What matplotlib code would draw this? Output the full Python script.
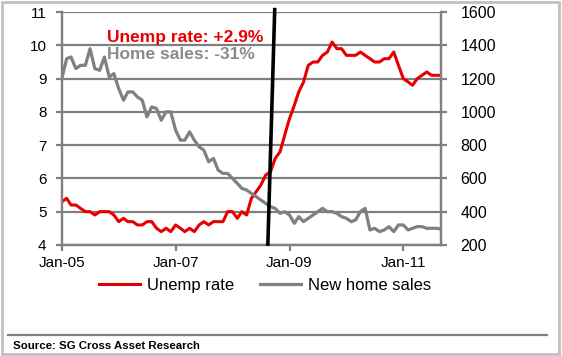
import numpy as np
import pandas as pd
import matplotlib
matplotlib.use("Agg")
import matplotlib.pyplot as plt
import matplotlib.dates as mdates
from matplotlib.lines import Line2D

plt.rcParams['font.family'] = ['Liberation Sans', 'DejaVu Sans']

# monthly, Jan-05 .. Sep-11
months = pd.date_range('2005-01-01', periods=81, freq='MS')

unemp_rate = [
    5.3, 5.4, 5.2, 5.2, 5.1, 5.0, 5.0, 4.9, 5.0, 5.0, 5.0, 4.9,   # 2005
    4.7, 4.8, 4.7, 4.7, 4.6, 4.6, 4.7, 4.7, 4.5, 4.4, 4.5, 4.4,   # 2006
    4.6, 4.5, 4.4, 4.5, 4.4, 4.6, 4.7, 4.6, 4.7, 4.7, 4.7, 5.0,   # 2007
    5.0, 4.8, 5.0, 4.9, 5.4, 5.6, 5.8, 6.1, 6.2, 6.6, 6.8, 7.3,   # 2008
    7.8, 8.2, 8.6, 8.9, 9.4, 9.5, 9.5, 9.7, 9.8, 10.1, 9.9, 9.9,  # 2009
    9.7, 9.7, 9.7, 9.8, 9.7, 9.6, 9.5, 9.5, 9.6, 9.6, 9.8, 9.4,   # 2010
    9.0, 8.9, 8.8, 9.0, 9.1, 9.2, 9.1, 9.1, 9.1,                  # 2011
]

home_sales = [
    1200, 1320, 1330, 1260, 1280, 1280, 1380, 1260, 1250, 1330, 1210, 1230,
    1140, 1070, 1120, 1120, 1090, 1070, 970, 1030, 1020, 950, 1000, 1000,
    890, 830, 830, 880, 830, 790, 770, 700, 720, 650, 630, 630,
    600, 570, 540, 530, 510, 490, 470, 450, 430, 420, 390, 400,
    380, 330, 370, 340, 360, 380, 400, 420, 400, 400, 390, 370,
    360, 340, 350, 400, 420, 290, 300, 280, 290, 310, 280, 320,
    320, 290, 300, 310, 310, 300, 300, 300, 295,
]

left_ticks = [4, 5, 6, 7, 8, 9, 10, 11]
right_ticks = [200, 400, 600, 800, 1000, 1200, 1400, 1600]
x_ticks = ['2005-01-01', '2007-01-01', '2009-01-01', '2011-01-01']

RED = '#e60000'
GREY = '#808080'

fig = plt.figure(figsize=(5.62, 3.56), dpi=100)
ax = fig.add_axes([0.110, 0.312, 0.675, 0.654])
ax2 = ax.twinx()

ax.plot(months, unemp_rate, color=RED, lw=2.2, solid_joinstyle='round')
ax2.plot(months, home_sales, color=GREY, lw=2.3, solid_joinstyle='round')

ax.set_ylim(4, 11)
ax2.set_ylim(200, 1600)
ax.set_xlim(months[0], months[-1])
ax.set_yticks(left_ticks)
ax2.set_yticks(right_ticks)
ax.set_xticks(pd.to_datetime(x_ticks))
ax.xaxis.set_major_formatter(mdates.DateFormatter('%b-%y'))

ax.grid(axis='y', color=GREY, lw=1.6)
ax.set_axisbelow(True)

for a in (ax, ax2):
    a.spines['top'].set_visible(False)
    for side in ('left', 'right', 'bottom'):
        a.spines[side].set_color(GREY)
        a.spines[side].set_linewidth(1.6)
    a.tick_params(colors=GREY, width=1.6, length=4, labelsize=11,
                  labelcolor='black')
ax.tick_params(axis='y', pad=7)
ax2.tick_params(axis='y', pad=10, labelsize=11.5)
ax.tick_params(axis='x', pad=4)

# annotations
ax.text(0.12, 0.89, 'Unemp rate: +2.9%', transform=ax.transAxes,
        color=RED, fontsize=12.5, fontweight='bold', va='center')
ax.text(0.12, 0.82, 'Home sales: -31%', transform=ax.transAxes,
        color='#8a8a8a', fontsize=12.5, fontweight='bold', va='center')

# steep black line marking the turn
x_top = mdates.date2num(pd.Timestamp('2008-09-28'))
x_bot = mdates.date2num(pd.Timestamp('2008-08-15'))
ax2.add_line(Line2D([x_bot, x_top], [205, 1615], color='black', lw=2.6,
                    clip_on=False, zorder=5))

handles = [Line2D([], [], color=RED, lw=2.2),
           Line2D([], [], color=GREY, lw=2.3)]
fig.legend(handles, ['Unemp rate', 'New home sales'], loc='center',
           bbox_to_anchor=(0.4715, 0.198), ncol=2, frameon=False,
           fontsize=12, handlelength=2.45, handletextpad=0.42,
           columnspacing=1.55)

# source line and frame
fig.add_artist(Line2D([0.014, 0.973], [0.059, 0.059], color=GREY, lw=1.6,
                      transform=fig.transFigure))
fig.text(0.023, 0.027, 'Source: SG Cross Asset Research', fontsize=8.2,
         fontweight='bold', va='center')
fig.add_artist(plt.Rectangle((0.003, 0.005), 0.991, 0.99, fill=False,
                             edgecolor='#c0c0c0', lw=2,
                             transform=fig.transFigure))

fig.savefig('out.png', dpi=100)
